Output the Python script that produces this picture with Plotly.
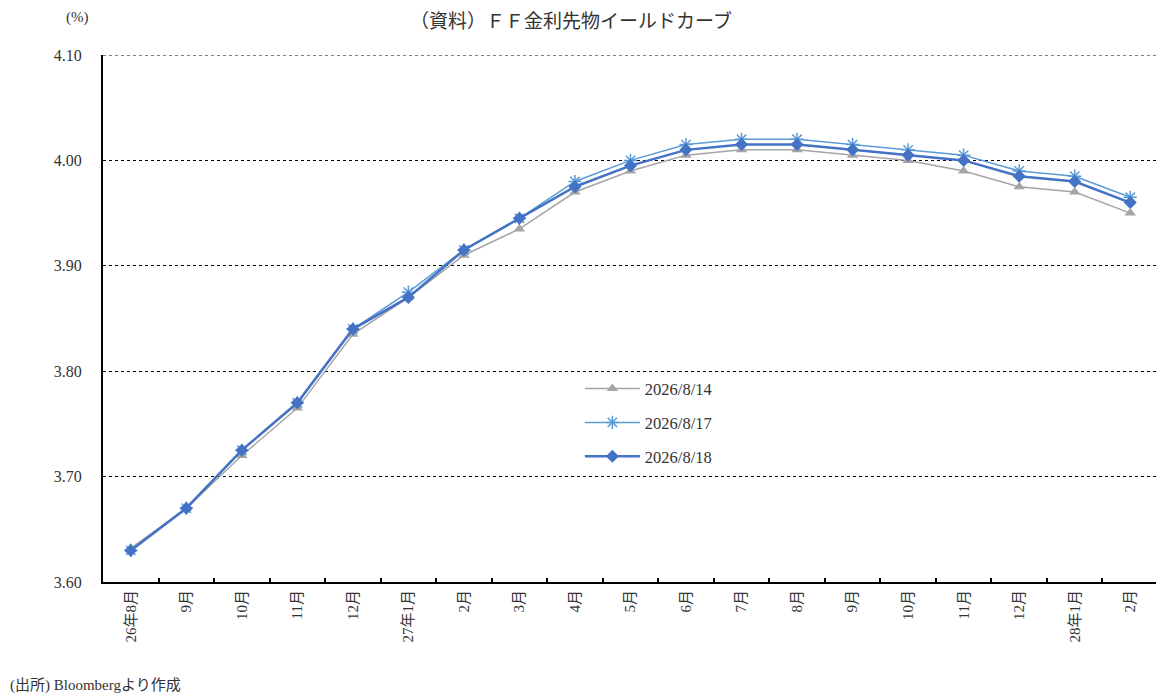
import plotly.graph_objects as go

# Categories (contract months)
months = ["26年8月", "9月", "10月", "11月", "12月", "27年1月", "2月", "3月", "4月", "5月",
          "6月", "7月", "8月", "9月", "10月", "11月", "12月", "28年1月", "2月"]
# unique keys so repeated month names stay separate categories
keys = [str(i) for i in range(len(months))]

# Yield curves (%)
curve_0814 = [3.632, 3.670, 3.720, 3.765, 3.835, 3.870, 3.910, 3.935, 3.970, 3.990,
              4.005, 4.010, 4.010, 4.005, 4.000, 3.990, 3.975, 3.970, 3.950]
curve_0817 = [3.630, 3.670, 3.725, 3.770, 3.840, 3.875, 3.915, 3.945, 3.980, 4.000,
              4.015, 4.020, 4.020, 4.015, 4.010, 4.005, 3.990, 3.985, 3.965]
curve_0818 = [3.630, 3.670, 3.725, 3.770, 3.840, 3.870, 3.915, 3.945, 3.975, 3.995,
              4.010, 4.015, 4.015, 4.010, 4.005, 4.000, 3.985, 3.980, 3.960]

font_family = "Liberation Serif, Noto Sans CJK JP, serif"

fig = go.Figure()
fig.add_trace(go.Scatter(x=keys, y=curve_0814, name="2026/8/14", mode="lines+markers",
                         legendgroup="a",
                         line=dict(color="#A5A5A5", width=1.5),
                         marker=dict(symbol="triangle-up", size=10, color="#A5A5A5")))
fig.add_trace(go.Scatter(x=keys, y=curve_0817, name="2026/8/17", mode="lines+markers",
                         legendgroup="b",
                         line=dict(color="#5B9BD5", width=1.5),
                         marker=dict(symbol="asterisk-open", size=11,
                                     line=dict(color="#5B9BD5", width=1.5))))
fig.add_trace(go.Scatter(x=keys, y=curve_0818, name="2026/8/18", mode="lines+markers",
                         legendgroup="c",
                         line=dict(color="#4472C4", width=2.5),
                         marker=dict(symbol="diamond", size=10, color="#4472C4")))

# page has an 8px body margin, so the figure is drawn 8px smaller and offset
fig.update_layout(
    width=1156, height=687,
    margin=dict(l=95, r=6, t=47, b=113),
    paper_bgcolor="white", plot_bgcolor="white",
    font=dict(family=font_family, size=15, color="#333333"),
    title=dict(text="（資料）ＦＦ金利先物イールドカーブ",
               x=0.487, xanchor="center", y=0.98, yanchor="middle",
               font=dict(size=19, color="#333333")),
    legend=dict(x=0.452, y=0.40, xanchor="left", yanchor="top",
                bgcolor="rgba(255,255,255,0)", traceorder="grouped",
                tracegroupgap=9.5, itemwidth=55, font=dict(size=16.5)),
    xaxis=dict(type="category", tickmode="array", tickvals=keys, ticktext=months,
               tickangle=-90, tickson="boundaries", ticks="inside", ticklen=4,
               tickcolor="black", tickwidth=2,
               showline=True, linecolor="black", linewidth=2, showgrid=False,
               range=[-0.5, len(keys) - 0.5], tickfont=dict(size=15)),
    yaxis=dict(range=[3.60, 4.10], dtick=0.10, tickformat=".2f",
               showgrid=True, gridcolor="black", griddash="dot", gridwidth=1,
               showline=True, linecolor="black", linewidth=2, zeroline=False,
               ticks="", ticklabelstandoff=16, tickfont=dict(size=16)),
)

# top dotted gridline at 4.10
fig.add_shape(type="line", xref="paper", yref="y", x0=0, x1=1, y0=4.10, y1=4.10,
              line=dict(color="black", width=1, dash="dot"))

fig.add_annotation(text="(%)", xref="paper", yref="paper", x=-0.024, y=1.072,
                   xanchor="center", yanchor="middle", showarrow=False,
                   font=dict(size=15))
fig.add_annotation(text="(出所) Bloombergより作成", xref="paper", yref="paper",
                   x=-0.09, y=-0.197, xanchor="left", yanchor="middle",
                   showarrow=False, font=dict(size=15))

fig.write_html("out.html")
